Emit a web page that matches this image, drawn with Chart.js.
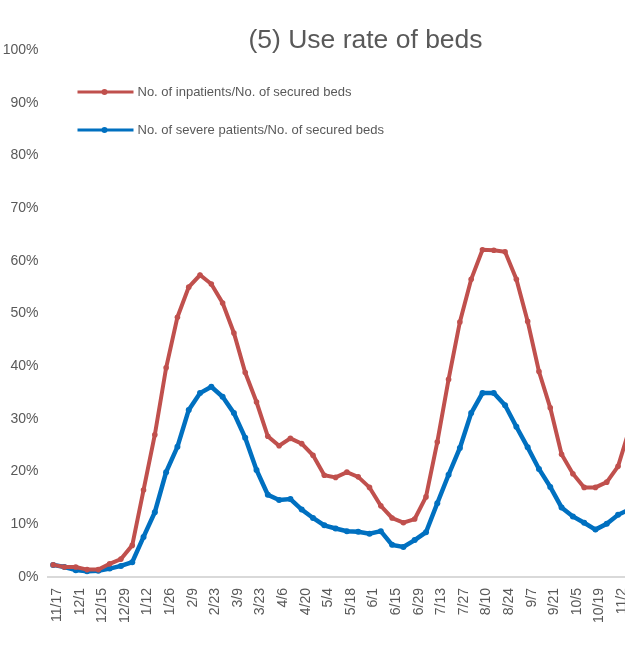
<!DOCTYPE html>
<html>
<head>
<meta charset="utf-8">
<script src="https://cdn.jsdelivr.net/npm/chart.js@4.4.1/dist/chart.umd.min.js"></script>
<style>
  html, body { margin: 0; padding: 0; background: #fff; overflow: hidden; width: 625px; height: 649px; }
  #wrap { width: 625px; height: 649px; overflow: hidden; position: relative; }
  #chart { display: block; position: absolute; left: 0; top: 0; }
</style>
</head>
<body>
<div id="wrap"><canvas id="chart" width="640" height="649"></canvas></div>
<script>
'use strict';

// weekly dates, 11/17 .. 11/9 of the next year (the last one runs off the picture)
const weeks = [
  '11/17', '11/24', '12/1', '12/8', '12/15', '12/22', '12/29', '1/5', '1/12', '1/19',
  '1/26', '2/2', '2/9', '2/16', '2/23', '3/2', '3/9', '3/16', '3/23', '3/30',
  '4/6', '4/13', '4/20', '4/27', '5/4', '5/11', '5/18', '5/25', '6/1', '6/8',
  '6/15', '6/22', '6/29', '7/6', '7/13', '7/20', '7/27', '8/3', '8/10', '8/17',
  '8/24', '8/31', '9/7', '9/14', '9/21', '9/28', '10/5', '10/12', '10/19', '10/26',
  '11/2', '11/9'
];

// % of secured beds
const inpatientRate = [
  2.3, 1.9, 1.9, 1.4, 1.4, 2.5, 3.4, 6.0, 16.5, 27.0,
  39.7, 49.3, 55.0, 57.3, 55.6, 52.0, 46.3, 38.8, 33.2, 26.7,
  24.9, 26.3, 25.3, 23.1, 19.3, 18.9, 19.9, 19.0, 17.0, 13.5,
  11.2, 10.3, 11.0, 15.2, 25.6, 37.5, 48.4, 56.5, 62.1, 62.0,
  61.7, 56.5, 48.5, 39.0, 32.1, 23.3, 19.6, 17.0, 17.0, 18.0,
  21.0, 28.0
];

const severeRate = [
  2.3, 1.9, 1.3, 1.1, 1.2, 1.6, 2.1, 2.8, 7.6, 12.3,
  19.9, 24.7, 31.7, 34.9, 36.1, 34.2, 31.1, 26.4, 20.3, 15.6,
  14.6, 14.8, 12.8, 11.2, 9.8, 9.2, 8.7, 8.6, 8.2, 8.7,
  6.1, 5.7, 7.0, 8.5, 14.0, 19.4, 24.5, 31.1, 34.9, 34.9,
  32.6, 28.5, 24.6, 20.5, 17.1, 13.2, 11.5, 10.3, 9.0, 10.1,
  11.8, 12.8
];

const seriesNames = [
  'No. of inpatients/No. of secured beds',
  'No. of severe patients/No. of secured beds'
];
const chartTitle = '(5) Use rate of beds';

const TEXT = '#595959';
const FONT = '"Liberation Sans", Arial, sans-serif';

// title and the in-plot legend, drawn after the chart
const decorations = {
  id: 'decorations',
  afterDraw(chart) {
    const { ctx, chartArea } = chart;
    ctx.save();
    ctx.fillStyle = TEXT;
    ctx.font = '26.5px ' + FONT;
    ctx.textAlign = 'center';
    ctx.textBaseline = 'middle';
    ctx.fillText(chartTitle, chartArea.left + 318, 41);

    ctx.font = '13px ' + FONT;
    ctx.textAlign = 'left';
    chart.data.datasets.forEach((ds, i) => {
      const y = 92 + i * 38;
      const x0 = chartArea.left + 30;
      ctx.strokeStyle = ds.borderColor;
      ctx.lineWidth = 3;
      ctx.beginPath();
      ctx.moveTo(x0, y);
      ctx.lineTo(x0 + 56, y);
      ctx.stroke();
      ctx.fillStyle = ds.borderColor;
      ctx.beginPath();
      ctx.arc(x0 + 27, y, 3, 0, Math.PI * 2);
      ctx.fill();
      ctx.fillStyle = TEXT;
      ctx.fillText(ds.label, x0 + 60, y);
    });
    ctx.restore();
  }
};

new Chart(document.getElementById('chart'), {
  type: 'line',
  data: {
    labels: weeks,
    datasets: [
      {
        label: seriesNames[0],
        data: inpatientRate,
        borderColor: '#C0504D',
        backgroundColor: '#C0504D',
        borderWidth: 4,
        pointRadius: 2.8,
        pointBorderWidth: 0,
      },
      {
        label: seriesNames[1],
        data: severeRate,
        borderColor: '#0070C0',
        backgroundColor: '#0070C0',
        borderWidth: 4.5,
        pointRadius: 3,
        pointBorderWidth: 0,
      },
    ],
  },
  options: {
    responsive: false,
    animation: false,
    layout: { padding: { top: 50, right: 5, left: 0, bottom: 0 } },
    plugins: { legend: { display: false }, title: { display: false }, tooltip: { enabled: false } },
    elements: { line: { tension: 0 } },
    scales: {
      x: {
        offset: true,
        grid: { display: false, drawTicks: false },
        border: { color: '#d9d9d9', width: 2 },
        ticks: {
          autoSkip: false,
          minRotation: 90,
          maxRotation: 90,
          padding: 11,
          labelOffset: 4,
          color: TEXT,
          font: { family: FONT, size: 14 },
          callback: (v, i) => (i % 2 ? '' : weeks[i]),
        },
        afterFit: (s) => {
          s.height = 72;
          s.paddingLeft = 0;
          s.paddingRight = 0;
        },
      },
      y: {
        min: 0,
        max: 100,
        grid: { display: false, drawTicks: false },
        border: { display: false },
        ticks: {
          stepSize: 10,
          padding: 9,
          color: TEXT,
          font: { family: FONT, size: 14 },
          callback: (v) => v + '%',
        },
        afterFit: (s) => { s.width = 47.5; },
      },
    },
  },
  plugins: [decorations],
});
</script>
</body>
</html>
